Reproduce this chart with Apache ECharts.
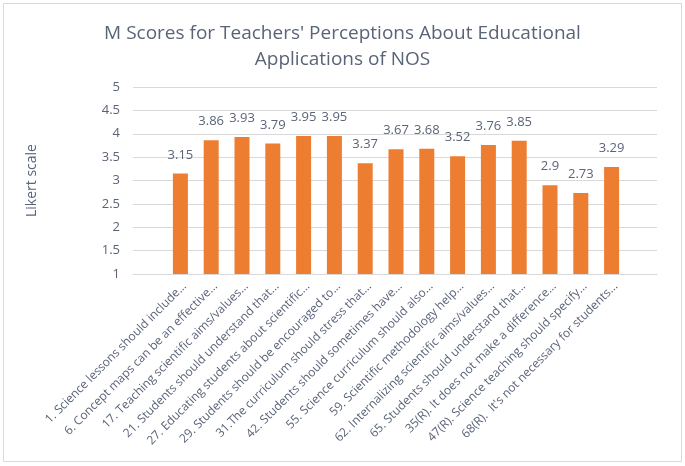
<!DOCTYPE html>
<html><head><meta charset="utf-8">
<script src="https://cdn.jsdelivr.net/npm/echarts@6/dist/echarts.min.js"></script>
<style>html,body{margin:0;padding:0;background:#fff}#c{width:685px;height:466px}</style>
</head><body><div id="c"></div>
<script>
const categories = [
  "1. Science lessons should include...",
  "6. Concept maps can be an effective...",
  "17. Teaching scientific aims/values...",
  "21. Students should understand that...",
  "27. Educating students about scientific...",
  "29. Students should be encouraged to...",
  "31.The curriculum should stress that...",
  "42. Students should sometimes have...",
  "55. Science curriculum should also...",
  "59. Scientific methodology help...",
  "62. Internalizing scientific aims/values...",
  "65. Students should understand that...",
  "35(R). It does not make a difference...",
  "47(R). Science teaching should specify...",
  "68(R).  It's not necessary for students..."
];
const scores = [3.15, 3.86, 3.93, 3.79, 3.95, 3.95, 3.37, 3.67, 3.68, 3.52, 3.76, 3.85, 2.9, 2.73, 3.29];
const titleText = "M Scores for Teachers' Perceptions About Educational\nApplications of NOS";
const yName = "Likert scale";

const txt = '#5a6478';
const font = 'Open Sans';
const chart = echarts.init(document.getElementById('c'));
chart.setOption({
  animation: false,
  textStyle: {fontFamily: font},
  title: {
    text: titleText, left: 'center', top: 16,
    textStyle: {fontFamily: font, fontSize: 19, fontWeight: 'normal', color: txt, lineHeight: 26}
  },
  graphic: [{type: 'rect', shape: {x: 3.5, y: 3.5, width: 678, height: 458}, style: {fill: 'none', stroke: '#d9d9d9', lineWidth: 1}, silent: true}],
  grid: [
    {left: 133, right: 28, top: 87, bottom: 192},
    {left: 165, right: 58, top: 87, bottom: 192}
  ],
  xAxis: [
    {gridIndex: 0, type: 'category', data: [''], axisLine: {show: true, lineStyle: {color: '#d9d9d9'}}, axisTick: {show: false}, axisLabel: {show: false}},
    {gridIndex: 1, type: 'category', data: categories, axisLine: {show: false}, axisTick: {show: false},
     axisLabel: {rotate: 45, interval: 0, fontSize: 12, color: txt, fontFamily: font, margin: 6, verticalAlign: 'top'}}
  ],
  yAxis: [
    {gridIndex: 0, type: 'value', min: 1, max: 5, interval: 0.5,
     name: yName, nameLocation: 'middle', nameGap: 94, nameRotate: 90,
     nameTextStyle: {fontSize: 14, color: txt, fontFamily: font},
     axisLine: {show: false}, axisTick: {show: false},
     axisLabel: {fontSize: 13, color: txt, fontFamily: font, margin: 13},
     splitLine: {lineStyle: {color: '#d9d9d9'}}},
    {gridIndex: 1, type: 'value', min: 1, max: 5, interval: 0.5, show: false, splitLine: {show: false}}
  ],
  series: [{
    type: 'bar', xAxisIndex: 1, yAxisIndex: 1, data: scores, barWidth: 15,
    itemStyle: {color: '#ED7D31'},
    label: {show: true, position: 'top', distance: 12, fontSize: 13, color: txt, fontFamily: font}
  }]
});
</script></body></html>
